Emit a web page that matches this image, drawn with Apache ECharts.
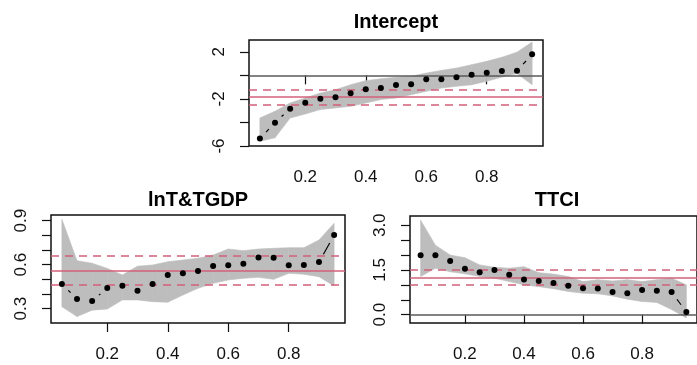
<!DOCTYPE html>
<html>
<head>
<meta charset="utf-8">
<script src="https://cdn.jsdelivr.net/npm/echarts@6/dist/echarts.min.js"></script>
<style>
  html, body { margin: 0; padding: 0; background: #fff; }
  #chart { width: 697px; height: 365px; }
</style>
</head>
<body>
<div id="chart"></div>
<script>
// quantiles used in every panel
const quantiles = [0.05, 0.10, 0.15, 0.20, 0.25, 0.30, 0.35, 0.40, 0.45, 0.50,
  0.55, 0.60, 0.65, 0.70, 0.75, 0.80, 0.85, 0.90, 0.95];
const xTicks = [0.2, 0.4, 0.6, 0.8];

// Intercept
const interceptEst = [-5.37, -4.02, -2.83, -2.32, -1.98, -1.86, -1.53, -1.19, -1.08, -0.82,
  -0.76, -0.34, -0.34, -0.17, 0.05, 0.22, 0.36, 0.39, 1.78];
const interceptLo = [-5.6, -5.3, -3.62, -3.28, -2.9, -2.77, -2.63, -2.35, -2.06, -1.92,
  -1.64, -1.36, -1.08, -0.93, -0.8, -0.51, -0.15, 0.15, -0.8];
const interceptHi = [-3.62, -3.05, -2.35, -1.92, -1.5, -1.22, -0.8, -0.45, -0.29, -0.17,
  -0.08, 0.19, 0.42, 0.62, 0.9, 1.19, 1.53, 1.97, 2.82];
const interceptOls = [-1.84, -1.19, -2.49]; // estimate, upper, lower
const interceptYTicks = [-6, -4, -2, 0, 2];
const interceptYLabels = [-6, -2, 2];

// lnT&TGDP
const lntEst = [0.468, 0.366, 0.353, 0.441, 0.457, 0.423, 0.468, 0.530, 0.541, 0.557,
  0.591, 0.596, 0.607, 0.650, 0.648, 0.596, 0.598, 0.618, 0.802];
const lntLo = [0.314, 0.246, 0.29, 0.298, 0.36, 0.36, 0.348, 0.344, 0.393, 0.439,
  0.473, 0.496, 0.507, 0.514, 0.5, 0.541, 0.535, 0.518, 0.455];
const lntHi = [0.91, 0.627, 0.61, 0.575, 0.53, 0.59, 0.598, 0.62, 0.632, 0.644,
  0.666, 0.707, 0.696, 0.707, 0.712, 0.716, 0.716, 0.768, 0.882];
const lntOls = [0.564, 0.661, 0.464];
const lntYTicks = [0.3, 0.4, 0.5, 0.6, 0.7, 0.8, 0.9];
const lntYLabels = [0.3, 0.6, 0.9];

// TTCI
const ttciEst = [1.99, 1.99, 1.8, 1.54, 1.42, 1.5, 1.34, 1.18, 1.13, 1.06,
  0.97, 0.89, 0.88, 0.76, 0.72, 0.83, 0.8, 0.76, 0.09];
const ttciLo = [1.28, 1.56, 1.44, 1.37, 1.28, 1.22, 1.11, 1.0, 0.94, 0.87,
  0.78, 0.72, 0.7, 0.63, 0.52, 0.44, 0.41, 0.17, -0.11];
const ttciHi = [3.17, 2.33, 2.0, 1.91, 1.67, 1.59, 1.56, 1.61, 1.41, 1.36,
  1.28, 1.11, 1.17, 1.13, 1.17, 1.11, 1.17, 1.22, 1.0];
const ttciOls = [1.243, 1.52, 1.0];
const ttciYTicks = [0.0, 0.5, 1.0, 1.5, 2.0, 2.5, 3.0];
const ttciYLabels = [0.0, 1.5, 3.0];

const red = "#d2607a";
const bandColor = "#bdbdbd";
const font = "Liberation Sans";

const panels = [
  { title: "Intercept", est: interceptEst, lo: interceptLo, hi: interceptHi, ols: interceptOls,
    yTicks: interceptYTicks, yLabels: interceptYLabels, yMin: -6, yMax: 3, zero: true, digits: 0,
    grid: { left: 249, top: 40, width: 294, height: 106 } },
  { title: "lnT&TGDP", est: lntEst, lo: lntLo, hi: lntHi, ols: lntOls,
    yTicks: lntYTicks, yLabels: lntYLabels, yMin: 0.2025, yMax: 0.939, zero: false, digits: 1,
    grid: { left: 51, top: 215, width: 294, height: 108 } },
  { title: "TTCI", est: ttciEst, lo: ttciLo, hi: ttciHi, ols: ttciOls,
    yTicks: ttciYTicks, yLabels: ttciYLabels, yMin: -0.28, yMax: 3.31, zero: true, digits: 1,
    grid: { left: 410, top: 216, width: 294, height: 107 } },
];

// confidence band, one quad per pair of neighbouring quantiles
function bandQuad(params, api) {
  const a = api.coord([api.value(0), api.value(1)]);
  const b = api.coord([api.value(0), api.value(2)]);
  const c = api.coord([api.value(3), api.value(5)]);
  const d = api.coord([api.value(3), api.value(4)]);
  return {
    type: "polygon",
    shape: { points: [a, b, c, d] },
    style: { fill: bandColor, stroke: bandColor, lineWidth: 0.6 },
  };
}

// R type="b": segment between points, leaving a gap round each point
function gapSegment(params, api) {
  const p1 = api.coord([api.value(0), api.value(1)]);
  const p2 = api.coord([api.value(2), api.value(3)]);
  const dx = p2[0] - p1[0], dy = p2[1] - p1[1];
  const d = Math.sqrt(dx * dx + dy * dy);
  const gap = 9;
  if (d <= 2 * gap) return null;
  const ux = dx / d, uy = dy / d;
  return {
    type: "line",
    shape: { x1: p1[0] + ux * gap, y1: p1[1] + uy * gap, x2: p2[0] - ux * gap, y2: p2[1] - uy * gap },
    style: { stroke: "#000", lineWidth: 1.2 },
  };
}

const grids = [], xAxes = [], yAxes = [], series = [], graphics = [];

panels.forEach((p, i) => {
  grids.push(Object.assign({ show: true, borderColor: "#111", borderWidth: 1.5, backgroundColor: "transparent" }, p.grid));
  graphics.push({
    type: "text",
    x: p.grid.left + p.grid.width / 2,
    y: i === 0 ? 22 : 200,
    style: { text: p.title, font: "bold 20px '" + font + "'", fill: "#000", textAlign: "center", textVerticalAlign: "middle" },
  });
  xAxes.push({
    type: "value", gridIndex: i, min: 0.014, max: 0.986,
    axisLine: { show: false },
    splitLine: { show: false },
    axisTick: { show: true, length: 9, inside: false, customValues: xTicks, lineStyle: { color: "#111", width: 1.2 } },
    axisLabel: { customValues: xTicks, margin: 23, color: "#111", fontSize: 17, fontFamily: font,
      formatter: (v) => v.toFixed(1) },
  });
  yAxes.push({
    type: "value", gridIndex: i, min: p.yMin, max: p.yMax,
    axisLine: { show: false },
    splitLine: { show: false },
    axisTick: { show: true, length: 9, inside: false, customValues: p.yTicks, lineStyle: { color: "#111", width: 1.2 } },
    axisLabel: { customValues: p.yLabels, rotate: 90, margin: 21, color: "#111", fontSize: 17, fontFamily: font,
      formatter: (v) => v.toFixed(p.digits) },
  });

  series.push({
    type: "custom", xAxisIndex: i, yAxisIndex: i, z: 1, silent: true,
    renderItem: bandQuad,
    data: quantiles.slice(1).map((q, k) => [quantiles[k], p.lo[k], p.hi[k], q, p.lo[k + 1], p.hi[k + 1]]),
  });

  const lines = [
    { yAxis: p.ols[0], lineStyle: { color: red, width: 1.5, type: "solid" } },
    { yAxis: p.ols[1], lineStyle: { color: red, width: 1.5, type: [8, 6] } },
    { yAxis: p.ols[2], lineStyle: { color: red, width: 1.5, type: [8, 6] } },
  ];
  if (p.zero) lines.push({ yAxis: 0, lineStyle: { color: "#5a5a5a", width: 1.6, type: "solid" } });
  series.push({
    type: "line", xAxisIndex: i, yAxisIndex: i, data: [], z: 3,
    markLine: { silent: true, symbol: "none", label: { show: false }, animation: false, data: lines },
  });

  series.push({
    type: "custom", xAxisIndex: i, yAxisIndex: i, z: 4, silent: true,
    renderItem: gapSegment,
    data: quantiles.slice(1).map((q, k) => [quantiles[k], p.est[k], q, p.est[k + 1]]),
  });
  series.push({
    type: "scatter", xAxisIndex: i, yAxisIndex: i, z: 5, silent: true,
    data: quantiles.map((q, k) => [q, p.est[k]]),
    symbol: "circle", symbolSize: 6, itemStyle: { color: "#000", opacity: 1 },
  });
});

const chart = echarts.init(document.getElementById("chart"), null, { renderer: "canvas" });
chart.setOption({
  animation: false,
  backgroundColor: "#fff",
  grid: grids,
  xAxis: xAxes,
  yAxis: yAxes,
  series: series,
  graphic: graphics,
});
window.addEventListener("resize", () => chart.resize());
</script>
</body>
</html>
